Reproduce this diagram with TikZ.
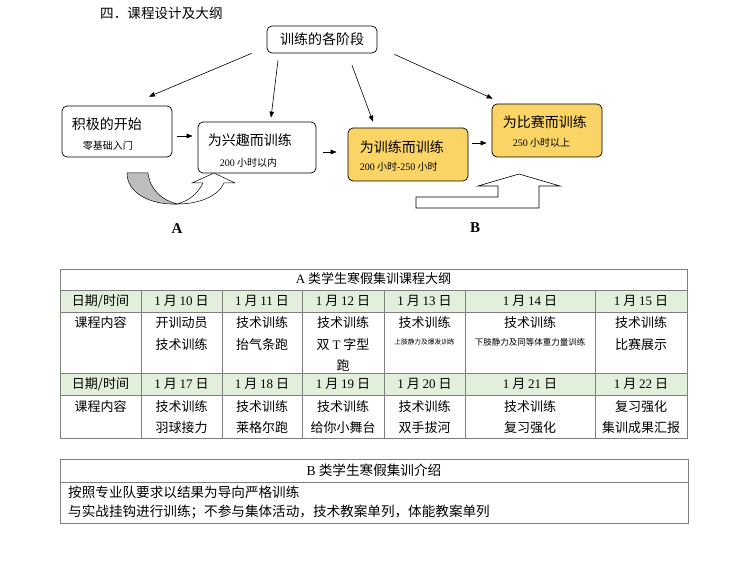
\documentclass[tikz,border=0pt]{standalone}
\usepackage{fontspec}
\setmainfont{Noto Sans CJK SC}
\newfontfamily\tnr{Liberation Serif}
\usetikzlibrary{arrows.meta,calc}
\definecolor{ygold}{HTML}{FBD466}
\definecolor{lgreen}{HTML}{E2EFDA}
\definecolor{tline}{HTML}{7F7F7F}
\definecolor{agray}{HTML}{BDBDBD}
\newcommand\dt[1]{{\tnr 1} 月 {\tnr #1} 日}
\tikzset{
  box/.style={draw=black, line width=0.7pt, rounded corners=5pt, inner sep=0pt},
  ybox/.style={box, fill=ygold},
  bigt/.style={font=\fontsize{14}{16}\selectfont, inner sep=0pt, anchor=west},
  smt/.style={font=\fontsize{10}{12}\selectfont, inner sep=0pt, anchor=west},
  arr/.style={line width=0.6pt, -{Triangle[length=6pt,width=4.5pt]}},
  tab/.style={font=\fontsize{13}{15}\selectfont, inner sep=0pt, text height=11pt, text depth=2pt},
  tabb/.style={font=\fontsize{13.6}{15}\selectfont, inner sep=0pt, text height=11pt, text depth=2pt},
  grid/.style={draw=tline, line width=0.7pt},
  lbl/.style={font=\tnr\bfseries\fontsize{15}{17}\selectfont, inner sep=0pt}
}
\begin{document}
\begin{tikzpicture}[x=1pt,y=-1pt]
\useasboundingbox (0,0) rectangle (747,577);
\fill[white] (0,0) rectangle (747,577);

% title
\node[anchor=west, font=\fontsize{13.6}{15}\selectfont, inner sep=0pt] (title) at (100,13) {四．课程设计及大纲};

% boxes
\node[box, minimum width=110pt, minimum height=27pt, font=\fontsize{14}{16}\selectfont] (stage) at (322,39.5) {训练的各阶段};
\node[box, minimum width=110pt, minimum height=51pt] (jiji) at (117,131.5) {};
\node[box, minimum width=118pt, minimum height=51pt] (xingqu) at (257,147.5) {};
\node[ybox, minimum width=120pt, minimum height=53pt] (xunlian) at (408,154.5) {};
\node[ybox, minimum width=110pt, minimum height=53pt] (bisai) at (547,130.5) {};

\node[bigt] (jiji1) at ($(jiji.north west)+(10,19)$) {积极的开始};
\node[smt] (jiji2) at ($(jiji.north west)+(21,40)$) {零基础入门};
\node[bigt] (xq1) at ($(xingqu.north west)+(10,18)$) {为兴趣而训练};
\node[smt] (xq2) at ($(xingqu.north west)+(22,41)$) {{\tnr 200} 小时以内};
\node[bigt] (xl1) at ($(xunlian.north west)+(12,19)$) {为训练而训练};
\node[smt] (xl2) at ($(xunlian.north west)+(12,39)$) {{\tnr 200} 小时{\tnr -250} 小时};
\node[bigt] (bs1) at ($(bisai.north west)+(11,18)$) {为比赛而训练};
\node[smt] (bs2) at ($(bisai.north west)+(21,39)$) {{\tnr 250} 小时以上};

% arrows from stage
\draw[arr] ($(stage.south west)+(-15,0)$) -- ($(jiji.north)+(32,-9)$);
\draw[arr] ($(stage.south)+(-44,7)$) -- ($(xingqu.north)+(14,-4)$);
\draw[arr] ($(stage.south)+(30,12)$) -- ($(xunlian.north)+(-35,-6)$);
\draw[arr] ($(stage.south east)+(17,1)$) -- ($(bisai.north west)+(1,-5)$);

% horizontal arrows
\draw[arr, shorten <=5pt, shorten >=5pt] (jiji.east |- 0,136) -- (xingqu.west |- 0,136);
\draw[arr, shorten <=7pt, shorten >=11pt] (xingqu.east |- 0,152) -- (xunlian.west |- 0,152);
\draw[arr, shorten <=4pt, shorten >=5pt] (xunlian.east |- 0,143) -- (bisai.west |- 0,143);

% curved arrow A
\draw[fill=agray, line width=0.5pt] (127,173) .. controls (127,193) and (150,205) .. (177,204)
  .. controls (162,200) and (150,190) .. (148,173) -- cycle;
\draw[fill=white, line width=0.5pt] (177,204) .. controls (200,204) and (218,196) .. (224,183)
  -- (235,183) -- (214,173) -- (192,183) -- (203,183)
  .. controls (197,195) and (188,201) .. (177,204) -- cycle;
\node[lbl] (la) at (177,229) {A};

% arrow B
\draw[fill=white, line width=0.6pt] (416,208) -- (416,197) -- (498,197) -- (498,186) -- (478,186)
  -- (519,174) -- (560,186) -- (539,186) -- (539,208) -- cycle;
\node[lbl] (lb) at (475,228) {B};

% ===== table A =====
\fill[lgreen] (60,290) rectangle (687,312);
\fill[lgreen] (60,373) rectangle (687,395);
\draw[grid] (60,269) rectangle (687,438);
\foreach \y in {290,312,373,395} \draw[grid] (60,\y) -- (687,\y);
\foreach \x in {141,222,302,384,465,595} \draw[grid] (\x,290) -- (\x,438);

\node[tab] (ha) at (373.5,279.5) {{\tnr A} 类学生寒假集训课程大纲};

\node[tab] (d1) at (100.5,301) {日期/时间};
\foreach \x/\d [count=\i] in {181.5/10,262/11,343/12,424.5/13,530/14,641/15}
  \node[tab] (da\i) at (\x,301) {\dt{\d}};

\node[tab] (k1) at (100.5,323) {课程内容};
\node[tab] (a11) at (181.5,323) {开训动员};
\node[tab] (a12) at (181.5,345) {技术训练};
\node[tab] (a21) at (262,323) {技术训练};
\node[tab] (a22) at (262,345) {抬气条跑};
\node[tab] (a31) at (343,323) {技术训练};
\node[tab] (a32) at (343,345) {双 {\tnr T} 字型};
\node[tab] (a33) at (343,366) {跑};
\node[tab] (a41) at (424.5,323) {技术训练};
\node[inner sep=0pt, font=\fontsize{6.7}{8}\selectfont] (a42) at (424.5,342) {上肢静力及爆发训练};
\node[tab] (a51) at (530,323) {技术训练};
\node[inner sep=0pt, font=\fontsize{8.5}{10}\selectfont] (a52) at (530,342) {下肢静力及同等体重力量训练};
\node[tab] (a61) at (641,323) {技术训练};
\node[tab] (a62) at (641,345) {比赛展示};

\node[tab] (d2) at (100.5,384) {日期/时间};
\foreach \x/\d [count=\i] in {181.5/17,262/18,343/19,424.5/20,530/21,641/22}
  \node[tab] (db\i) at (\x,384) {\dt{\d}};

\node[tab] (k2) at (100.5,407) {课程内容};
\node[tab] (b11) at (181.5,407) {技术训练};
\node[tab] (b12) at (181.5,428) {羽球接力};
\node[tab] (b21) at (262,407) {技术训练};
\node[tab] (b22) at (262,428) {莱格尔跑};
\node[tab] (b31) at (343,407) {技术训练};
\node[tab] (b32) at (343,428) {给你小舞台};
\node[tab] (b41) at (424.5,407) {技术训练};
\node[tab] (b42) at (424.5,428) {双手拔河};
\node[tab] (b51) at (530,407) {技术训练};
\node[tab] (b52) at (530,428) {复习强化};
\node[tab] (b61) at (641,407) {复习强化};
\node[tab] (b62) at (641,428) {集训成果汇报};

% ===== table B =====
\draw[grid] (60,459) rectangle (688,523);
\draw[grid] (60,482) -- (688,482);
\node[tabb] (hb) at (374,470.5) {{\tnr B} 类学生寒假集训介绍};
\node[tabb, anchor=west] (bl1) at (68,493) {按照专业队要求以结果为导向严格训练};
\node[tabb, anchor=west] (bl2) at (68,512) {与实战挂钩进行训练；不参与集体活动，技术教案单列，体能教案单列};
\end{tikzpicture}
\end{document}
